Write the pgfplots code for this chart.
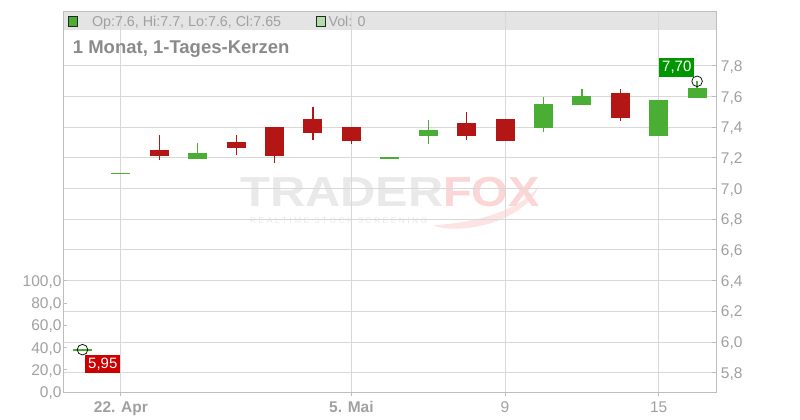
\documentclass[border=0pt]{standalone}
\usepackage{fontspec}
\setmainfont{Liberation Sans}
\usepackage{graphicx}
\usepackage{pgfplots}
\usepackage{pgfplotstable}
\pgfplotsset{compat=1.18}
\definecolor{cred}{RGB}{180,22,22}
\definecolor{cgreen}{RGB}{74,173,52}
\definecolor{labred}{RGB}{204,0,0}
\definecolor{labgreen}{RGB}{0,150,0}
\definecolor{gridgray}{RGB}{216,216,216}
\definecolor{axisgray}{RGB}{190,190,190}
\definecolor{ticklab}{RGB}{160,160,160}
\definecolor{titlegray}{RGB}{138,138,138}
\definecolor{legbar}{RGB}{228,228,228}
\definecolor{wmgray}{RGB}{233,233,233}
\definecolor{wmpink}{RGB}{250,214,214}
\definecolor{wmtail}{RGB}{252,228,228}
\definecolor{volgreen}{RGB}{176,221,168}

% red (falling) candles: index open high low close
\pgfplotstableread{
x open high low close
2 7.25 7.35 7.19 7.22
4 7.30 7.35 7.22 7.27
5 7.40 7.40 7.17 7.22
6 7.45 7.53 7.32 7.37
7 7.40 7.40 7.29 7.32
10 7.42 7.50 7.32 7.35
11 7.45 7.45 7.32 7.32
14 7.62 7.65 7.44 7.47
}\redcandles
% green (rising) candles
\pgfplotstableread{
x open high low close
0 5.95 5.95 5.95 5.95
1 7.10 7.10 7.10 7.10
3 7.20 7.30 7.20 7.23
8 7.20 7.20 7.20 7.20
9 7.35 7.45 7.29 7.38
12 7.40 7.60 7.37 7.55
13 7.55 7.65 7.55 7.60
15 7.35 7.57 7.35 7.57
16 7.60 7.70 7.60 7.65
}\greencandles

\pgfplotsset{candle/.style={only marks, mark=*, mark size=0pt, mark options={draw=none, fill=none}, forget plot}}

\begin{document}
\begin{tikzpicture}
\path[use as bounding box] (-63.3pt,-27.7pt) rectangle (736.7pt,392.3pt);
% legend bar
\fill[legbar] (0pt,362.3pt) rectangle (653pt,380.6pt);
% watermark
\fill[wmtail] (370pt,167pt) .. controls (420pt,170pt) and (460pt,185pt) .. (476pt,207pt) .. controls (468pt,186pt) and (440pt,168pt) .. (402pt,164pt) .. controls (388pt,163pt) and (377pt,164pt) .. (370pt,167pt) -- cycle;
\node[anchor=base west, inner sep=0pt, text=wmgray, font=\bfseries\fontsize{42}{42}\selectfont, xscale=1.16] at (176.7pt,185.3pt) {TRADER};
\node[anchor=base west, inner sep=0pt, text=wmpink, font=\bfseries\fontsize{42}{42}\selectfont, xscale=1.12] at (379.7pt,185.3pt) {FOX};
\node[anchor=base west, inner sep=0pt, text=wmgray] at (186.7pt,169pt) {\resizebox{177pt}{!}{\fontsize{11}{11}\selectfont R E A L T I M E\ \ S T O C K\ \ S C R E E N I N G}};

\begin{axis}[
  at={(0pt,0pt)}, anchor=south west,
  scale only axis, width=653pt, height=380.6pt,
  xmin=-0.5, xmax=16.5, ymin=5.672, ymax=8.154,
  xtick={1,7,11,15},
  xticklabels={\textbf{22. Apr},\textbf{5. Mai},9,15},
  ytick={5.8,6,6.2,6.4,6.6,6.8,7,7.2,7.4,7.6,7.8},
  ytick pos=right, yticklabel pos=right, xtick pos=bottom,
  grid=major, major grid style={draw=gridgray, line width=1pt},
  axis line style={draw=axisgray, line width=1pt},
  tick style={draw=axisgray, line width=1pt},
  xtick align=outside, ytick align=inside, major tick length=4pt,
  tick label style={font=\fontsize{15.5}{18}\selectfont, text=ticklab},
  /pgf/number format/assume math mode=true,
  yticklabel style={/pgf/number format/.cd, fixed, fixed zerofill, precision=1, use comma, /tikz/.cd, anchor=base west, inner sep=0pt, xshift=4.4pt, yshift=-5.5pt},
  xticklabel style={anchor=north, inner sep=0pt, yshift=-5pt},
]
% wicks
\addplot[candle, error bars/.cd, y dir=plus, y explicit, error mark=none, error bar style={line width=1.3pt, draw=cred}]
  table[x=x, y=low, y error expr=\thisrow{high}-\thisrow{low}] {\redcandles};
\addplot[candle, error bars/.cd, y dir=plus, y explicit, error mark=none, error bar style={line width=1.3pt, draw=cgreen}]
  table[x=x, y=low, y error expr=\thisrow{high}-\thisrow{low}] {\greencandles};
% bodies
\addplot[candle, error bars/.cd, y dir=both, y explicit, error mark=none, error bar style={line width=19pt, draw=cred}]
  table[x=x, y=close, y error plus expr=\thisrow{open}-\thisrow{close}+0.005, y error minus expr=0.005] {\redcandles};
\addplot[candle, error bars/.cd, y dir=both, y explicit, error mark=none, error bar style={line width=19pt, draw=cgreen}]
  table[x=x, y=open, y error plus expr=\thisrow{close}-\thisrow{open}+0.005, y error minus expr=0.005] {\greencandles};
% min / max markers
\addplot[only marks, mark=o, mark size=5.3pt, mark options={draw=black, line width=0.7pt}] coordinates {(0,5.95) (16,7.70)};
\node[fill=labred, text=white, inner xsep=3pt, inner ysep=0pt, minimum height=18.5pt, anchor=north west, font=\fontsize{15}{18}\selectfont, xshift=2.5pt, yshift=-4.7pt] at (axis cs:0,5.95) {5,95};
\node[fill=labgreen, text=white, inner xsep=3pt, inner ysep=0pt, minimum height=18.5pt, anchor=south east, font=\fontsize{15}{18}\selectfont, xshift=-2.5pt, yshift=4.3pt] at (axis cs:16,7.70) {7,70};
\end{axis}

\begin{axis}[
  at={(0pt,0pt)}, anchor=south west,
  scale only axis, width=653pt, height=380.6pt,
  xmin=-0.5, xmax=16.5, ymin=0, ymax=341,
  hide x axis, axis y line*=left,
  ytick={0,20,40,60,80,100},
  y axis line style={draw=axisgray, line width=1pt},
  tick style={draw=axisgray, line width=1pt},
  tick align=inside, major tick length=4pt,
  tick label style={font=\fontsize{15.5}{18}\selectfont, text=ticklab},
  /pgf/number format/assume math mode=true,
  yticklabel style={/pgf/number format/.cd, fixed, fixed zerofill, precision=1, use comma, /tikz/.cd, anchor=base east, inner sep=0pt, xshift=-1.6pt, yshift=-5.5pt},
]
\addplot[draw=none, mark=none, forget plot] coordinates {(0,0) (16,0)};
\end{axis}

% title and legend
\node[anchor=base west, inner sep=0pt, text=titlegray, font=\bfseries\fontsize{18.5}{20}\selectfont] at (9.4pt,338.3pt) {1 Monat, 1-Tages-Kerzen};
\filldraw[fill=cgreen, draw=black!85, line width=0.8pt] (5.4pt,366.3pt) rectangle (14pt,375.6pt);
\node[anchor=base west, inner sep=0pt, text=ticklab, font=\fontsize{14.3}{16}\selectfont] at (28.5pt,365.8pt) {Op:7.6, Hi:7.7, Lo:7.6, Cl:7.65};
\filldraw[fill=volgreen, draw=black!85, line width=0.8pt] (253.4pt,366.3pt) rectangle (261.7pt,375.6pt);
\node[anchor=base west, inner sep=0pt, text=ticklab, font=\fontsize{14.3}{16}\selectfont] at (265pt,365.8pt) {Vol: 0};
\end{tikzpicture}
\end{document}
